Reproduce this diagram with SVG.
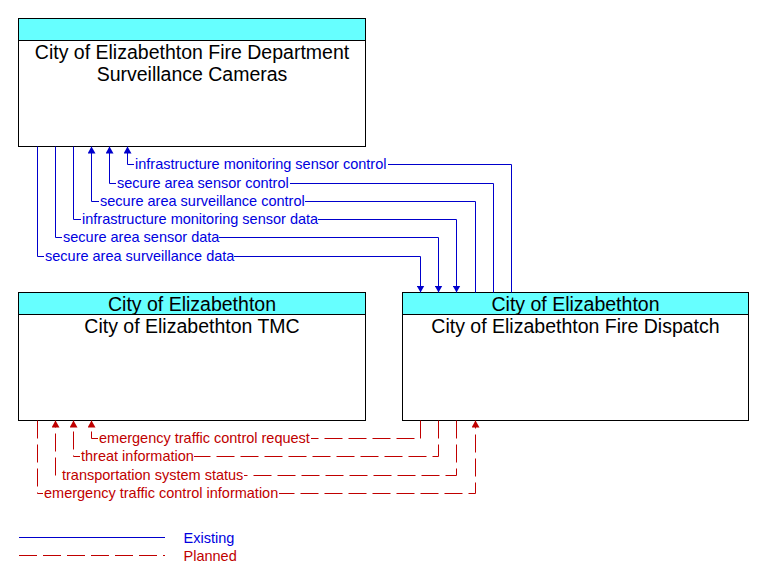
<svg xmlns="http://www.w3.org/2000/svg" width="764" height="583" viewBox="0 0 764 583">
<style>
.box{fill:#FFFFFF;stroke:#000000;stroke-width:1}
.hdr{fill:#66FFFF;stroke:#000000;stroke-width:1}
.t{font-family:"Liberation Sans",Arial,sans-serif;font-size:19.5px;fill:#000000;text-anchor:middle}
.ex{fill:none;stroke:#0000CC;stroke-width:1}
.pl{fill:none;stroke:#C00000;stroke-width:1;stroke-dasharray:18 6}
.bg{fill:#FFFFFF;stroke:none}
.lb{font-family:"Liberation Sans",Arial,sans-serif;font-size:14.5px;fill:#0000E0}
.lr{font-family:"Liberation Sans",Arial,sans-serif;font-size:14.5px;fill:#C00000}
</style>
<defs>
<marker id="ab" viewBox="0 0 7 8" refX="7" refY="4" markerWidth="7" markerHeight="8" markerUnits="userSpaceOnUse" orient="auto"><path d="M0,0 L7,4 L0,8 z" fill="#0000CC"/></marker>
<marker id="ar" viewBox="0 0 7 8" refX="7" refY="4" markerWidth="7" markerHeight="8" markerUnits="userSpaceOnUse" orient="auto"><path d="M0,0 L7,4 L0,8 z" fill="#C00000"/></marker>
</defs>
<rect x="0" y="0" width="764" height="583" fill="#FFFFFF"/>

<g id="node-cameras">
<rect class="box" x="18.5" y="18.5" width="347" height="128"/>
<rect class="hdr" x="18.5" y="18.5" width="347" height="22"/>
<text class="t" x="192" y="58.5">City of Elizabethton Fire Department</text>
<text class="t" x="192" y="80.5">Surveillance Cameras</text>
</g>

<g id="node-tmc">
<rect class="box" x="18.5" y="292.5" width="347" height="128"/>
<rect class="hdr" x="18.5" y="292.5" width="347" height="22"/>
<text class="t" x="192" y="310.5">City of Elizabethton</text>
<text class="t" x="192" y="332.5">City of Elizabethton TMC</text>
</g>

<g id="node-dispatch">
<rect class="box" x="402.5" y="292.5" width="346" height="128"/>
<rect class="hdr" x="402.5" y="292.5" width="346" height="22"/>
<text class="t" x="575.5" y="310.5">City of Elizabethton</text>
<text class="t" x="575.5" y="332.5">City of Elizabethton Fire Dispatch</text>
</g>

<g id="connectors">
<path class="ex" d="M37.5,146.5 V256.5 H420.5 V292.5" marker-end="url(#ab)"/>
<path class="ex" d="M55.5,146.5 V237.5 H438.5 V292.5" marker-end="url(#ab)"/>
<path class="ex" d="M73.5,146.5 V219.5 H456.5 V292.5" marker-end="url(#ab)"/>
<path class="ex" d="M475.5,292.5 V201.5 H91.5 V146.5" marker-end="url(#ab)"/>
<path class="ex" d="M493.5,292.5 V183.5 H109.5 V146.5" marker-end="url(#ab)"/>
<path class="ex" d="M511.5,292.5 V164.5 H127.5 V146.5" marker-end="url(#ab)"/>

<path class="pl" d="M420.5,420.5 V438.5 H91.5 V420.5" marker-end="url(#ar)"/>
<path class="pl" d="M438.5,420.5 V456.5 H73.5 V420.5" marker-end="url(#ar)"/>
<path class="pl" d="M456.5,420.5 V475.5 H55.5 V420.5" marker-end="url(#ar)"/>
<path class="pl" d="M37.5,420.5 V493.5 H475.5 V420.5" marker-end="url(#ar)"/>

<rect class="bg" x="134" y="157.5" width="254" height="14"/>
<text class="lb" x="135" y="169">infrastructure monitoring sensor control</text>
<rect class="bg" x="116" y="176.5" width="174" height="14"/>
<text class="lb" x="117" y="188">secure area sensor control</text>
<rect class="bg" x="99" y="194.5" width="206" height="14"/>
<text class="lb" x="100" y="206">secure area surveillance control</text>
<rect class="bg" x="81" y="212.5" width="237" height="14"/>
<text class="lb" x="82" y="224">infrastructure monitoring sensor data</text>
<rect class="bg" x="62" y="230.5" width="157" height="14"/>
<text class="lb" x="63" y="242">secure area sensor data</text>
<rect class="bg" x="44" y="249.5" width="190" height="14"/>
<text class="lb" x="45" y="261">secure area surveillance data</text>

<rect class="bg" x="98" y="431.5" width="213" height="14"/>
<text class="lr" x="99" y="443">emergency traffic control request</text>
<rect class="bg" x="80" y="449.5" width="114" height="14"/>
<text class="lr" x="81" y="461">threat information</text>
<rect class="bg" x="61" y="468.5" width="183" height="14"/>
<text class="lr" x="62" y="480">transportation system status</text>
<rect class="bg" x="43" y="486.5" width="236" height="14"/>
<text class="lr" x="44" y="498">emergency traffic control information</text>
</g>

<g id="legend">
<line class="ex" x1="19" y1="537.5" x2="165" y2="537.5"/>
<text class="lb" x="183.5" y="542.5">Existing</text>
<line class="pl" x1="19" y1="555.5" x2="165" y2="555.5"/>
<text class="lr" x="183.5" y="560.5">Planned</text>
</g>
</svg>
